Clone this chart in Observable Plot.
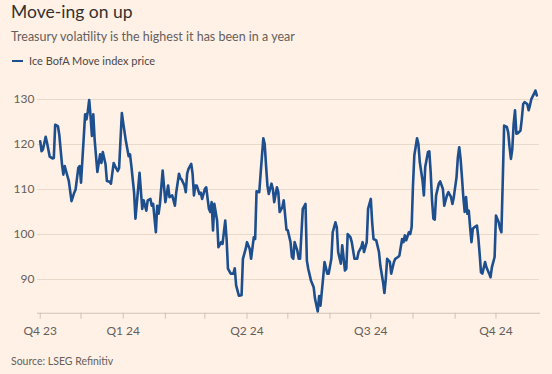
<!DOCTYPE html>
<html>
<head>
<meta charset="utf-8">
<script src="https://cdn.jsdelivr.net/npm/d3@7"></script>
<script src="https://cdn.jsdelivr.net/npm/@observablehq/plot@0.6"></script>
<style>
  html, body { margin: 0; padding: 0; background: #fff1e5; }
  body { width: 552px; height: 374px; position: relative; overflow: hidden; font-family: Lato, "Noto Sans", sans-serif; }
  .t { position: absolute; left: 11px; white-space: nowrap; }
  #title { top: 1.5px; font-size: 17.5px; line-height: 20px; color: #33302e; }
  #subtitle { top: 29px; font-size: 12.5px; line-height: 16px; color: #66605c; }
  #legend { top: 53.7px; font-size: 11px; line-height: 14px; color: #4d4845; left: 29px; }
  #swatch { position: absolute; left: 11.7px; top: 59.7px; width: 11px; height: 2.7px; background: #1d4f8f; }
  #chart { position: absolute; left: 0; top: 80px; }
  #source { top: 354px; font-size: 10.5px; line-height: 14px; color: #66605c; }
</style>
</head>
<body>
<div id="title" class="t">Move-ing on up</div>
<div id="subtitle" class="t">Treasury volatility is the highest it has been in a year</div>
<div id="swatch"></div>
<div id="legend" class="t">Ice BofA Move index price</div>
<div id="chart"></div>
<div id="source" class="t">Source: LSEG Refinitiv</div>
<script>
const dates = [
"2023-11-01","2023-11-02","2023-11-03","2023-11-05","2023-11-06","2023-11-08","2023-11-10","2023-11-11","2023-11-12","2023-11-14",
"2023-11-15","2023-11-17","2023-11-18","2023-11-19","2023-11-21","2023-11-22","2023-11-24","2023-11-26","2023-11-27","2023-11-29",
"2023-11-30","2023-12-01","2023-12-04","2023-12-05","2023-12-06","2023-12-07","2023-12-08","2023-12-09","2023-12-10","2023-12-11",
"2023-12-13","2023-12-15","2023-12-16","2023-12-17","2023-12-19","2023-12-20","2023-12-22","2023-12-23","2023-12-25","2023-12-26",
"2023-12-28","2023-12-29","2023-12-31","2024-01-01","2024-01-03","2024-01-05","2024-01-06","2024-01-07","2024-01-09","2024-01-10",
"2024-01-13","2024-01-15","2024-01-16","2024-01-18","2024-01-19","2024-01-21","2024-01-22","2024-01-23","2024-01-25","2024-01-26",
"2024-01-27","2024-01-28","2024-01-30","2024-02-01","2024-02-02","2024-02-03","2024-02-04","2024-02-06","2024-02-07","2024-02-08",
"2024-02-09","2024-02-11","2024-02-12","2024-02-13","2024-02-15","2024-02-16","2024-02-17","2024-02-18","2024-02-20","2024-02-21",
"2024-02-22","2024-02-23","2024-02-24","2024-02-26","2024-02-27","2024-02-28","2024-03-01","2024-03-02","2024-03-04","2024-03-05",
"2024-03-06","2024-03-07","2024-03-08","2024-03-10","2024-03-11","2024-03-13","2024-03-14","2024-03-16","2024-03-17","2024-03-18",
"2024-03-20","2024-03-22","2024-03-23","2024-03-24","2024-03-26","2024-03-28","2024-03-29","2024-03-31","2024-04-01","2024-04-03",
"2024-04-04","2024-04-06","2024-04-07","2024-04-08","2024-04-10","2024-04-11","2024-04-13","2024-04-14","2024-04-15","2024-04-16",
"2024-04-17","2024-04-19","2024-04-20","2024-04-21","2024-04-23","2024-04-24","2024-04-25","2024-04-27","2024-04-28","2024-04-30",
"2024-05-01","2024-05-03","2024-05-04","2024-05-05","2024-05-06","2024-05-08","2024-05-09","2024-05-10","2024-05-12","2024-05-14",
"2024-05-15","2024-05-16","2024-05-18","2024-05-20","2024-05-21","2024-05-23","2024-05-24","2024-05-25","2024-05-27","2024-05-28",
"2024-05-30","2024-05-31","2024-06-02","2024-06-03","2024-06-05","2024-06-06","2024-06-07","2024-06-09","2024-06-10","2024-06-12",
"2024-06-13","2024-06-14","2024-06-16","2024-06-17","2024-06-19","2024-06-21","2024-06-22","2024-06-24","2024-06-25","2024-06-26",
"2024-06-28","2024-06-29","2024-07-01","2024-07-02","2024-07-03","2024-07-05","2024-07-07","2024-07-08","2024-07-10","2024-07-11",
"2024-07-12","2024-07-13","2024-07-15","2024-07-16","2024-07-18","2024-07-19","2024-07-21","2024-07-22","2024-07-24","2024-07-25",
"2024-07-26","2024-07-27","2024-07-29","2024-07-30","2024-07-31","2024-08-01","2024-08-02","2024-08-04","2024-08-05","2024-08-06",
"2024-08-08","2024-08-09","2024-08-10","2024-08-12","2024-08-13","2024-08-14","2024-08-15","2024-08-16","2024-08-17","2024-08-18",
"2024-08-20","2024-08-21","2024-08-23","2024-08-24","2024-08-25","2024-08-26","2024-08-27","2024-08-29","2024-08-30","2024-08-31",
"2024-09-02","2024-09-03","2024-09-04","2024-09-05","2024-09-06","2024-09-07","2024-09-08","2024-09-09","2024-09-10","2024-09-11",
"2024-09-12","2024-09-13","2024-09-14","2024-09-15","2024-09-17","2024-09-18","2024-09-19","2024-09-20","2024-09-21","2024-09-23",
"2024-09-24","2024-09-26","2024-09-27","2024-09-28","2024-09-30","2024-10-01","2024-10-03","2024-10-04","2024-10-05","2024-10-06",
"2024-10-07","2024-10-09","2024-10-10","2024-10-11","2024-10-12","2024-10-13","2024-10-14","2024-10-15","2024-10-16","2024-10-17",
"2024-10-19","2024-10-20","2024-10-21","2024-10-22","2024-10-24","2024-10-25","2024-10-26","2024-10-27","2024-10-29","2024-10-30",
"2024-10-31"
];
const values = [
120.7,118.5,118.9,121.7,120.4,117.3,116.9,117.0,124.4,124.1,
122.2,115.6,113.3,115.2,113.0,111.9,107.4,109.3,110.0,114.8,
115.2,111.5,126.7,125.6,127.4,129.9,126.3,121.9,126.7,121.1,
113.9,117.8,115.9,118.3,115.6,111.9,111.7,111.3,115.9,115.2,
114.1,114.8,127.0,124.8,120.7,117.4,117.8,115.2,109.3,103.5,
113.7,105.7,107.6,105.3,107.6,107.9,106.4,106.8,100.5,106.4,
104.6,106.8,114.2,107.2,109.0,110.9,108.3,108.7,107.6,106.4,
109.4,113.5,112.5,112.2,110.9,109.4,113.5,114.6,115.7,113.5,
108.7,110.9,110.9,109.0,109.3,107.9,110.1,110.5,105.7,105.0,
107.2,100.9,106.8,103.1,97.2,98.3,97.9,103.1,99.0,92.4,
91.3,91.3,92.5,88.7,86.4,86.5,94.6,96.8,98.3,96.8,
94.6,99.4,99.0,109.6,109.4,113.5,121.4,120.1,115.3,110.9,
109.0,111.3,110.1,107.2,110.5,109.4,105.0,106.1,107.6,101.1,
100.9,98.3,95.0,94.6,98.3,96.4,94.6,94.6,105.7,106.8,
94.2,92.4,89.8,88.3,85.7,82.9,86.3,84.2,90.5,93.9,
91.3,91.3,94.6,100.5,102.7,101.6,96.1,93.5,97.6,92.0,
92.4,100.1,99.4,98.3,94.6,94.6,96.1,97.2,98.3,96.1,
98.3,105.7,107.9,102.7,99.0,98.7,96.1,93.1,89.4,87.0,
90.1,94.6,93.9,91.3,93.9,94.6,95.0,95.3,99.0,98.3,
99.8,98.7,100.5,100.1,101.6,110.9,117.6,121.4,120.1,116.1,
112.0,108.7,115.0,118.3,118.5,113.9,107.6,103.5,103.3,108.7,
111.3,111.8,110.1,106.4,107.6,108.7,109.4,108.3,106.8,108.3,
112.7,117.2,119.4,116.8,112.7,108.3,105.0,108.3,104.6,105.3,
101.6,98.3,101.3,101.6,102.0,99.4,95.7,91.6,91.3,93.9,
92.7,91.3,90.5,92.7,95.0,104.2,102.7,101.3,100.5,112.0,
124.2,123.9,122.7,119.4,116.8,119.0,124.6,127.6,122.4,122.5,
123.1,125.7,129.0,129.4,129.0,127.6,128.7,130.1,131.3,132.0,
130.9
];
const monthTicks = ["2023-11-01","2023-12-01","2024-01-01","2024-02-01","2024-03-01","2024-04-01",
  "2024-05-01","2024-06-01","2024-07-01","2024-08-01","2024-09-01","2024-10-01"];
const quarterLabels = {"2023-11-01": "Q4 23", "2024-01-01": "Q1 24", "2024-04-01": "Q2 24",
  "2024-07-01": "Q3 24", "2024-10-01": "Q4 24"};
const yTicks = [90, 100, 110, 120, 130];
const xDomain = ["2023-10-30", "2024-11-02"];
const yDomain = [82.5, 133];

const data = dates.map((d, i) => ({date: new Date(d), value: values[i]}));
const labelFor = d => quarterLabels[d.toISOString().slice(0, 10)] || "";

const chart = Plot.plot({
  width: 552,
  height: 262,
  marginLeft: 37,
  marginRight: 13,
  marginTop: 5.5,
  marginBottom: 29.25,
  style: {background: "transparent", fontFamily: "Lato, 'Noto Sans', sans-serif", fontSize: "12px", color: "#66605c"},
  x: {type: "utc", domain: xDomain.map(d => new Date(d))},
  y: {domain: yDomain},
  marks: [
    Plot.gridY(yTicks, {stroke: "#e8d9cb", strokeOpacity: 1, strokeWidth: 1}),
    Plot.frame({anchor: "bottom", stroke: "#cfc2b6"}),
    Plot.axisX(monthTicks.map(d => new Date(d)), {tickSize: 6, tickPadding: 7, stroke: "#cfc2b6", tickFormat: labelFor, fill: "#66605c", fontSize: 12, label: null}),
    Plot.axisY(yTicks, {tickSize: 0, tickPadding: 3, fill: "#66605c", fontSize: 12, label: null}),
    Plot.lineY(data, {x: "date", y: "value", stroke: "#1d4f8f", strokeWidth: 2.6, strokeLinejoin: "round", strokeLinecap: "round"})
  ]
});
document.getElementById("chart").appendChild(chart);
</script>
</body>
</html>
